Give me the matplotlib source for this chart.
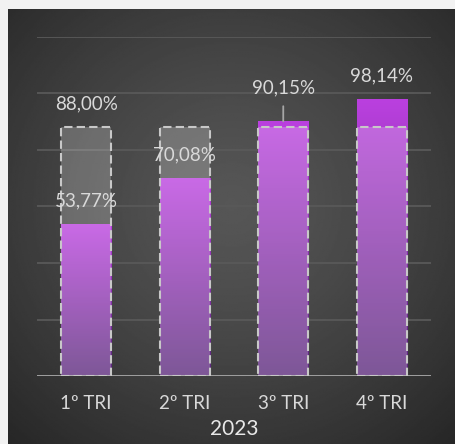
import matplotlib.pyplot as plt
import numpy as np
from matplotlib.colors import LinearSegmentedColormap

plt.rcParams['font.family'] = ['Lato', 'DejaVu Sans']

# data
quarters = ['1º TRI', '2º TRI', '3º TRI', '4º TRI']
actual = [53.77, 70.08, 90.15, 98.14]
target = [88.0, 88.0, 88.0, 88.0]
show_target_label = [True, False, False, False]
year = '2023'


def pct(v):
    return f"{v:.2f}".replace('.', ',') + '%'


fig = plt.figure(figsize=(4.55, 4.44), dpi=100)
fig.patch.set_facecolor('#f2f2f2')

# dark panel with radial gradient
bg = fig.add_axes([8 / 455, 0, 447 / 455, 435 / 444])
gx, gy = np.meshgrid(np.linspace(0, 1, 300), np.linspace(0, 1, 300))
d = np.sqrt(((gx - 0.5) / 0.75) ** 2 + ((gy - 0.45) / 0.75) ** 2)
d = np.clip(d, 0, 1)
shade = (0x56 - (0x56 - 0x26) * d ** 1.3) / 255
bg.imshow(shade, cmap='gray', vmin=0, vmax=1, extent=[0, 1, 0, 1],
          aspect='auto', origin='upper')
bg.axis('off')

ax = fig.add_axes([37 / 455, 68 / 444, 394 / 455, 339 / 444])
ax.set_facecolor('none')
x = np.arange(len(quarters))
width = 0.51

# actual bars with vertical gradient
grad = LinearSegmentedColormap.from_list('g', ['#5a297b', '#ba40df'])
bars = ax.bar(x, actual, width, color='none', zorder=2)
for b in bars:
    x0, w, h = b.get_x(), b.get_width(), b.get_height()
    im = ax.imshow(np.linspace(0, 1, 100).reshape(-1, 1), cmap=grad,
                   extent=[x0, x0 + w, 0, h], origin='lower',
                   aspect='auto', zorder=2)
    im.set_clip_path(b)

# target boxes
ax.bar(x, target, width, facecolor=(1, 1, 1, 0.22), edgecolor='#c8c8c8',
       linewidth=1.5, linestyle=(0, (4, 2)), zorder=3)

ax.axhline(0, color='#a6a6a6', lw=2, zorder=2.5)

ax.set_xlim(-0.5, 3.5)
ax.set_ylim(0, 120)
ax.set_yticks(range(0, 121, 20))
ax.yaxis.grid(True, color='#595959', lw=1.3, zorder=0)
ax.set_axisbelow(True)
for s in ax.spines.values():
    s.set_visible(False)
ax.tick_params(left=False, labelleft=False, bottom=False, pad=10.5,
               labelcolor='#d9d9d9', labelsize=13.5)
ax.set_xticks(x, quarters)
ax.set_xlabel(year, fontsize=15, color='#e8e8e8', labelpad=5)

txt = dict(ha='center', va='center', fontsize=13.5, color='#d9d9d9', zorder=5)
for i in range(len(quarters)):
    if show_target_label[i]:
        ax.annotate(pct(target[i]), (x[i], target[i]), xytext=(0, 17),
                    textcoords='offset points', **txt)
    if i == 2:
        ax.annotate(pct(actual[i]), (x[i], actual[i]), xytext=(0, 24),
                    textcoords='offset points',
                    arrowprops=dict(arrowstyle='-', color='#a6a6a6', lw=1.3,
                                    shrinkA=5, shrinkB=0), **txt)
    else:
        ax.annotate(pct(actual[i]), (x[i], actual[i]), xytext=(0, 16.5),
                    textcoords='offset points', **txt)

fig.savefig('out.png', dpi=100, facecolor=fig.get_facecolor())
